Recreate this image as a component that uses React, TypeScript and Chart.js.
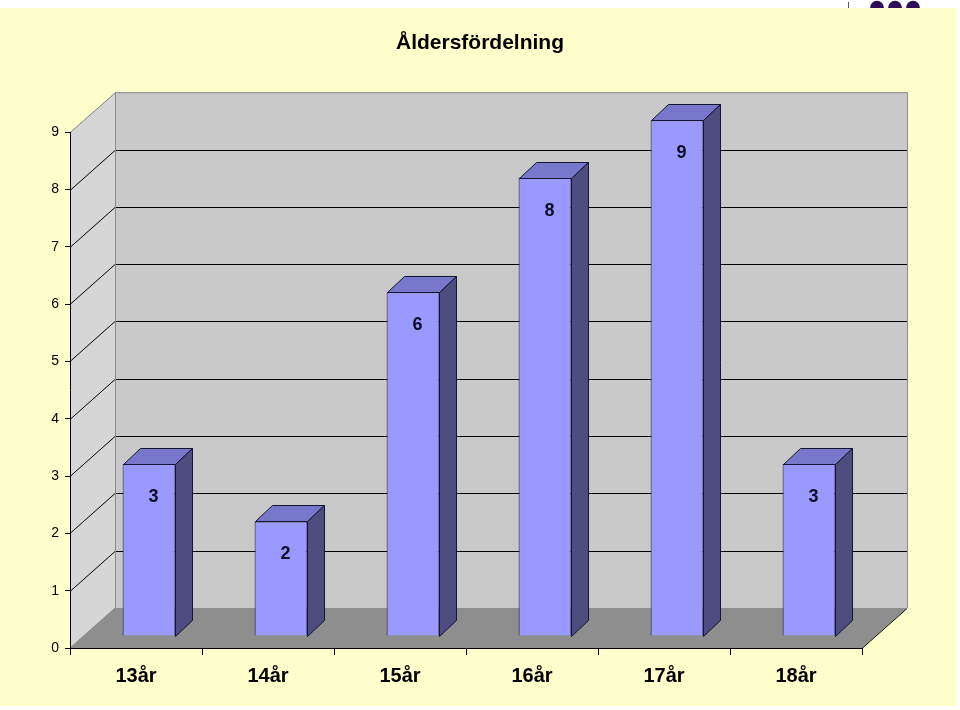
import React, { useEffect, useRef } from "react";
import { Chart, registerables } from "chart.js";

Chart.register(...registerables);

const categories = ["13år", "14år", "15år", "16år", "17år", "18år"];
const values = [3, 2, 6, 8, 9, 3];
const titleText = "Åldersfördelning";
const yMin = 0;
const yMax = 9;

// 3D geometry (pixels)
const WALL_DX = 45;
const WALL_DY = 40;
const BAR_OFF_X = 13;
const BAR_OFF_Y = 12;
const BAR_DX = 17;
const BAR_DY = 16;

const threeD = {
  id: "threeD",
  beforeDraw(chart: any) {
    const ctx = chart.ctx as CanvasRenderingContext2D;
    const { left: L, right: R, top: T, bottom: B } = chart.chartArea;
    const ys = chart.scales.y;
    ctx.save();
    ctx.fillStyle = "#ffffff";
    ctx.fillRect(0, 0, chart.width, chart.height);
    ctx.fillStyle = "#2e0a56";
    [877, 895, 913].forEach((cx) => {
      ctx.beginPath();
      ctx.arc(cx, 7.5, 6.8, 0, Math.PI * 2);
      ctx.fill();
    });
    ctx.strokeStyle = "#555";
    ctx.lineWidth = 1;
    ctx.beginPath();
    ctx.moveTo(848.5, 2);
    ctx.lineTo(848.5, 8);
    ctx.stroke();
    ctx.fillStyle = "#ffffcc";
    ctx.fillRect(0, 8, 957, 698);

    ctx.fillStyle = "#d6d6d6";
    ctx.beginPath();
    ctx.moveTo(L, T);
    ctx.lineTo(L + WALL_DX, T - WALL_DY);
    ctx.lineTo(L + WALL_DX, B - WALL_DY);
    ctx.lineTo(L, B);
    ctx.closePath();
    ctx.fill();
    ctx.fillStyle = "#c9c9c9";
    ctx.fillRect(L + WALL_DX, T - WALL_DY, R - L, B - T);
    ctx.fillStyle = "#8e8e8e";
    ctx.beginPath();
    ctx.moveTo(L, B);
    ctx.lineTo(L + WALL_DX, B - WALL_DY);
    ctx.lineTo(R + WALL_DX, B - WALL_DY);
    ctx.lineTo(R, B);
    ctx.closePath();
    ctx.fill();

    ctx.strokeStyle = "#000";
    ctx.lineWidth = 1;
    for (let v = yMin + 1; v < yMax; v++) {
      const y = Math.round(ys.getPixelForValue(v)) + 0.5;
      ctx.beginPath();
      ctx.moveTo(L, y);
      ctx.lineTo(L + WALL_DX, y - WALL_DY);
      ctx.lineTo(R + WALL_DX, y - WALL_DY);
      ctx.stroke();
    }
    ctx.strokeStyle = "#8a8a8a";
    ctx.beginPath();
    ctx.moveTo(L, T + 0.5);
    ctx.lineTo(L + WALL_DX + 0.5, T - WALL_DY + 0.5);
    ctx.lineTo(R + WALL_DX + 0.5, T - WALL_DY + 0.5);
    ctx.lineTo(R + WALL_DX + 0.5, B - WALL_DY);
    ctx.stroke();
    ctx.beginPath();
    ctx.moveTo(L + WALL_DX + 0.5, T - WALL_DY);
    ctx.lineTo(L + WALL_DX + 0.5, B - WALL_DY);
    ctx.stroke();
    ctx.beginPath();
    ctx.moveTo(L, B);
    ctx.lineTo(L + WALL_DX, B - WALL_DY);
    ctx.stroke();
    ctx.strokeStyle = "#000";
    ctx.beginPath();
    ctx.moveTo(R, B + 0.5);
    ctx.lineTo(R + WALL_DX, B - WALL_DY + 0.5);
    ctx.stroke();
    ctx.restore();
  },
  beforeDatasetsDraw(chart: any) {
    chart.ctx.save();
    chart.ctx.translate(BAR_OFF_X, -BAR_OFF_Y);
  },
  afterDatasetsDraw(chart: any) {
    const ctx = chart.ctx as CanvasRenderingContext2D;
    ctx.restore();
    ctx.save();
    const meta = chart.getDatasetMeta(0);
    meta.data.forEach((bar: any, i: number) => {
      const x1 = Math.round(bar.x - bar.width / 2 + BAR_OFF_X) + 0.5;
      const x2 = Math.round(bar.x + bar.width / 2 + BAR_OFF_X) + 0.5;
      const top = Math.round(bar.y - BAR_OFF_Y) + 0.5;
      const base = Math.round(bar.base - BAR_OFF_Y) + 0.5;
      ctx.lineWidth = 1;
      ctx.strokeStyle = "#141433";
      ctx.fillStyle = "#7777cc";
      ctx.beginPath();
      ctx.moveTo(x1, top);
      ctx.lineTo(x1 + BAR_DX, top - BAR_DY);
      ctx.lineTo(x2 + BAR_DX, top - BAR_DY);
      ctx.lineTo(x2, top);
      ctx.closePath();
      ctx.fill();
      ctx.stroke();
      ctx.fillStyle = "#4d4d80";
      ctx.beginPath();
      ctx.moveTo(x2, top);
      ctx.lineTo(x2 + BAR_DX, top - BAR_DY);
      ctx.lineTo(x2 + BAR_DX, base - BAR_DY);
      ctx.lineTo(x2, base);
      ctx.closePath();
      ctx.fill();
      ctx.stroke();
      ctx.fillStyle = "#0d0d26";
      ctx.font = "bold 18px 'Liberation Sans', Arial, sans-serif";
      ctx.textAlign = "center";
      ctx.textBaseline = "middle";
      ctx.fillText(String(values[i]), (x1 + x2) / 2 + 4, top + 33);
    });
    ctx.restore();
  },
};

export default function App() {
  const ref = useRef<HTMLCanvasElement | null>(null);
  useEffect(() => {
    document.body.style.margin = "0";
    Chart.defaults.font.family = "'Liberation Sans', Arial, sans-serif";
    Chart.defaults.color = "#000";
    const chart = new Chart(ref.current as HTMLCanvasElement, {
      type: "bar",
      data: {
        labels: categories,
        datasets: [
          {
            data: values,
            backgroundColor: "#9999ff",
            borderColor: "#141433",
            borderWidth: 1,
            categoryPercentage: 1,
            barPercentage: 0.4,
          },
        ],
      },
      options: {
        animation: false,
        responsive: false,
        events: [],
        layout: { padding: { left: 0, right: 0, top: 0, bottom: 0 } },
        plugins: {
          legend: { display: false },
          tooltip: { enabled: false },
          title: {
            display: true,
            text: titleText,
            color: "#000",
            font: { size: 21, weight: "bold" },
            padding: { top: 31, bottom: 76 },
          },
        },
        scales: {
          x: {
            grid: { drawOnChartArea: false, color: "#000", tickLength: 7, offset: true },
            border: { color: "#000" },
            ticks: { color: "#000", font: { size: 20, weight: "bold" }, padding: 9 },
            afterFit(s: any) {
              s.height = 62;
            },
          },
          y: {
            min: yMin,
            max: yMax,
            grid: { drawOnChartArea: false, color: "#000", tickLength: 5 },
            border: { color: "#000" },
            ticks: { stepSize: 1, color: "#000", font: { size: 14 }, padding: 6 },
            afterFit(s: any) {
              s.width = 70;
            },
          },
          spacer: {
            position: "right",
            display: true,
            grid: { display: false, drawTicks: false },
            border: { display: false },
            ticks: { display: false },
            afterFit(s: any) {
              s.width = 98;
            },
          },
        },
      },
      plugins: [threeD],
    } as any);
    return () => chart.destroy();
  }, []);
  return (
    <div style={{ width: 960, height: 710 }}>
      <canvas ref={ref} width={960} height={710} style={{ display: "block" }} />
    </div>
  );
}
